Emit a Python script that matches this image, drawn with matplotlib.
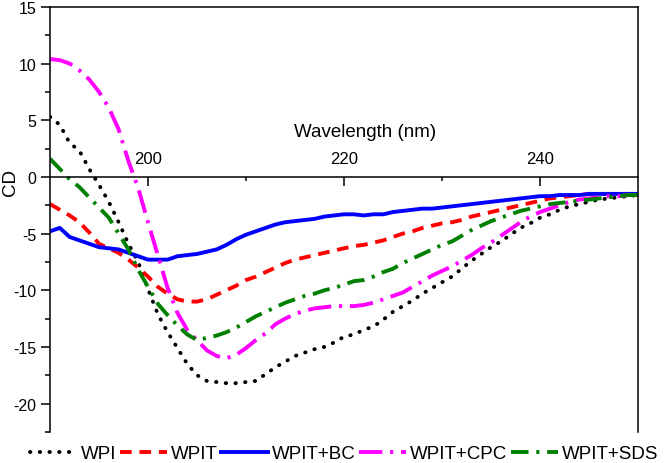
import numpy as np
import matplotlib.pyplot as plt

# ---- data ----
wavelength = np.arange(190, 251)

wpi = [5.3, 4.6, 3.0, 2.3, 0.7, -0.7, -2.2, -4.0, -5.9, -7.5,
       -9.9, -12.1, -13.7, -15.1, -16.5, -17.5, -18.0, -18.1, -18.2, -18.2,
       -18.1, -18.0, -17.4, -16.8, -16.3, -15.8, -15.5, -15.2, -15.0, -14.6,
       -14.1, -13.9, -13.5, -13.2, -12.6, -11.9, -11.4, -10.9, -10.3, -9.8,
       -9.3, -8.8, -8.1, -7.4, -6.8, -6.2, -5.7, -5.1, -4.5, -4.1,
       -3.6, -3.3, -2.9, -2.6, -2.4, -2.2, -2.0, -1.9, -1.8, -1.7, -1.6]

wpit = [-2.4, -2.9, -3.4, -4.0, -4.9, -5.9, -6.3, -6.7, -7.3, -8.0,
        -8.8, -9.7, -10.3, -10.8, -11.0, -11.0, -10.8, -10.4, -10.0, -9.6,
        -9.1, -8.8, -8.4, -8.0, -7.6, -7.3, -7.1, -6.9, -6.7, -6.5,
        -6.3, -6.1, -6.0, -5.8, -5.6, -5.3, -5.0, -4.8, -4.5, -4.3,
        -4.1, -4.0, -3.8, -3.5, -3.3, -3.1, -2.9, -2.7, -2.5, -2.3,
        -2.1, -1.9, -1.8, -1.7, -1.6, -1.5, -1.5, -1.5, -1.5, -1.5, -1.5]

wpit_bc = [-4.8, -4.5, -5.3, -5.6, -5.9, -6.2, -6.3, -6.4, -6.7, -7.0,
           -7.3, -7.3, -7.3, -7.0, -6.9, -6.8, -6.6, -6.4, -6.0, -5.5,
           -5.1, -4.8, -4.5, -4.2, -4.0, -3.9, -3.8, -3.7, -3.5, -3.4,
           -3.3, -3.3, -3.4, -3.3, -3.3, -3.1, -3.0, -2.9, -2.8, -2.8,
           -2.7, -2.6, -2.5, -2.4, -2.3, -2.2, -2.1, -2.0, -1.9, -1.8,
           -1.7, -1.7, -1.6, -1.6, -1.6, -1.5, -1.5, -1.5, -1.5, -1.5, -1.5]

wpit_cpc = [10.4, 10.3, 10.0, 9.4, 8.6, 7.5, 6.1, 4.2, 1.4, -1.0,
            -4.0, -6.9, -9.8, -12.0, -13.5, -14.4, -15.3, -15.8, -16.0, -15.7,
            -15.1, -14.4, -13.8, -13.0, -12.5, -12.1, -11.8, -11.6, -11.5, -11.4,
            -11.4, -11.4, -11.3, -11.1, -10.8, -10.5, -10.2, -9.7, -9.2, -8.7,
            -8.3, -7.9, -7.4, -6.9, -6.3, -5.8, -5.2, -4.6, -4.0, -3.5,
            -3.1, -2.8, -2.5, -2.2, -2.0, -1.9, -1.8, -1.7, -1.7, -1.6, -1.6]

wpit_sds = [1.6, 0.7, -0.2, -0.9, -1.8, -2.7, -3.6, -5.0, -6.4, -8.2,
            -9.7, -11.2, -12.2, -13.1, -13.9, -14.4, -14.2, -14.0, -13.7, -13.3,
            -12.8, -12.3, -11.9, -11.5, -11.1, -10.8, -10.5, -10.3, -10.0, -9.8,
            -9.5, -9.2, -9.1, -8.8, -8.4, -8.1, -7.6, -7.2, -6.8, -6.4,
            -6.0, -5.7, -5.2, -4.7, -4.3, -3.9, -3.6, -3.3, -3.0, -2.8,
            -2.6, -2.4, -2.3, -2.2, -2.1, -2.0, -1.9, -1.8, -1.7, -1.6, -1.6]

labels = ["WPI", "WPIT", "WPIT+BC", "WPIT+CPC", "WPIT+SDS"]

# ---- style ----
plt.rcParams["font.family"] = ["Liberation Sans", "DejaVu Sans"]
plt.rcParams["axes.unicode_minus"] = False

fig = plt.figure(figsize=(6.64, 4.64), dpi=100)
ax = fig.add_axes([0.0753, 0.067, 0.8857, 0.916])

ax.plot(wavelength, wpi, color="black", lw=2.8,
        linestyle=(0, (0.1, 2.4)), dash_capstyle="round", label=labels[0])
ax.plot(wavelength, wpit, color="#ff0000", lw=2.8,
        linestyle=(0, (3, 2)), label=labels[1])
ax.plot(wavelength, wpit_bc, color="#0000ff", lw=2.8,
        linestyle="-", label=labels[2])
ax.plot(wavelength, wpit_cpc, color="#ff00ff", lw=2.8,
        linestyle=(0, (6, 2, 0.8, 2)), label=labels[3])
ax.plot(wavelength, wpit_sds, color="#008000", lw=2.8,
        linestyle=(0, (4.5, 2, 0.8, 2)), label=labels[4])

ax.set_xlim(190, 250)
ax.set_ylim(-22.5, 15)

# x axis runs through y = 0, labels sit above it
ax.spines["bottom"].set_position(("data", 0))
for s in ax.spines.values():
    s.set_linewidth(1.1)

ax.set_xticks([200, 220, 240])
ax.set_xticks([210, 230], minor=True)
ax.set_yticks([-20, -15, -10, -5, 0, 5, 10, 15])
ax.set_yticks(np.arange(-22.5, 15.1, 2.5), minor=True)

ax.tick_params(axis="x", which="major", direction="out", length=6.3,
               width=1.1, pad=-25, labelsize=12)
ax.tick_params(axis="x", which="minor", direction="out", length=3,
               width=1.1)
ax.tick_params(axis="y", which="major", direction="out", length=6.5,
               width=1.1, labelsize=11.5)
ax.tick_params(axis="y", which="minor", direction="out", length=3.6,
               width=1.1)

ax.set_xlabel("Wavelength (nm)", fontsize=13.5, va="center")
ax.xaxis.set_label_coords(0.536, 0.706)
ax.set_ylabel("CD", fontsize=13.5, va="center")
ax.yaxis.set_label_coords(-0.068, 0.588)

fig.legend(loc="center", bbox_to_anchor=(0.518, 0.02), ncol=5,
           frameon=False, fontsize=13.5, handlelength=2.5,
           handletextpad=0.2, columnspacing=0.2, borderaxespad=0)

fig.savefig("out.png", dpi=100)
